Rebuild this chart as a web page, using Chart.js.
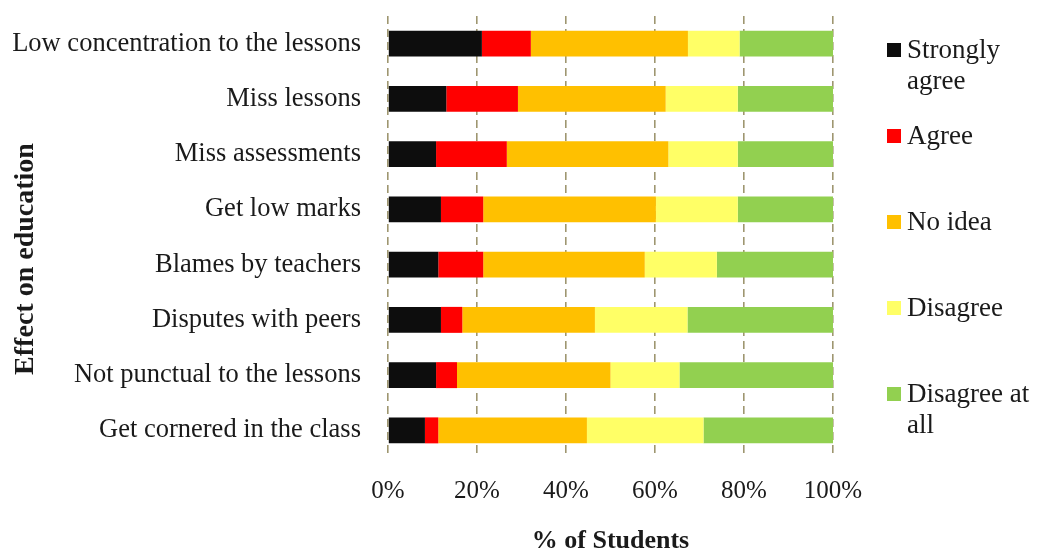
<!DOCTYPE html>
<html>
<head>
<meta charset="utf-8">
<script src="https://cdn.jsdelivr.net/npm/chart.js@4/dist/chart.umd.min.js"></script>
<style>
  html, body { margin: 0; padding: 0; background: #fff; }
  #wrap { width: 1038px; height: 552px; }
</style>
</head>
<body>
<div id="wrap"><canvas id="effectChart" width="1038" height="552"></canvas></div>
<script>
// Categories (top to bottom)
var effectLabels = [
    'Low concentration to the lessons',
    'Miss lessons',
    'Miss assessments',
    'Get low marks',
    'Blames by teachers',
    'Disputes with peers',
    'Not punctual to the lessons',
    'Get cornered in the class'
];

// % of students per answer
var stronglyAgree   = [21.1, 13.1, 10.8, 11.9, 11.3, 11.9, 10.8, 8.3];
var agree           = [11.0, 16.1, 15.9,  9.5, 10.1,  4.8,  4.7, 3.0];
var noIdea          = [35.3, 33.2, 36.3, 38.8, 36.3, 29.8, 34.5, 33.4];
var disagree        = [11.6, 16.2, 15.6, 18.4, 16.2, 20.8, 15.5, 26.2];
var disagreeAtAll   = [21.0, 21.4, 21.4, 21.4, 26.1, 32.7, 34.5, 29.1];

var xTicks = [0, 20, 40, 60, 80, 100];

var serif = "'Liberation Serif', 'Times New Roman', serif";
var textColor = '#1a1a1a';
var yTitle = 'Effect on education';

// legend on the right (wrapped labels) + y axis title
var sideLegend = {
    id: 'sideLegend',
    afterDraw: function(chart) {
        var ctx = chart.ctx;
        var area = chart.chartArea;
        var boxX = area.right + 54;
        var textX = boxX + 20;
        var maxW = chart.width - textX - 4;
        ctx.save();
        ctx.font = '27px ' + serif;
        ctx.textBaseline = 'middle';
        ctx.textAlign = 'left';
        chart.data.datasets.forEach(function(ds, i) {
            var y = area.top + 34 + i * 86;
            ctx.fillStyle = ds.backgroundColor;
            ctx.fillRect(boxX, y - 7, 14, 14);
            // simple word wrap
            var words = ds.label.split(' ');
            var lines = [];
            var line = '';
            words.forEach(function(w) {
                var test = line ? line + ' ' + w : w;
                if (ctx.measureText(test).width > maxW && line) {
                    lines.push(line);
                    line = w;
                } else {
                    line = test;
                }
            });
            lines.push(line);
            ctx.fillStyle = textColor;
            lines.forEach(function(l, j) {
                ctx.fillText(l, textX, y + 1 + j * 31);
            });
        });

        // y title, rotated
        ctx.translate(26, (area.top + area.bottom) / 2 + 22);
        ctx.rotate(-Math.PI / 2);
        ctx.textAlign = 'center';
        ctx.font = 'bold 28px ' + serif;
        ctx.fillText(yTitle, 0, 0);
        ctx.restore();
    }
};

var ctx = document.getElementById('effectChart').getContext('2d');
var effectChart = new Chart(ctx, {
    type: 'bar',
    data: {
        labels: effectLabels,
        datasets: [
            { label: 'Strongly agree', data: stronglyAgree, backgroundColor: '#0d0d0d' },
            { label: 'Agree', data: agree, backgroundColor: '#ff0000' },
            { label: 'No idea', data: noIdea, backgroundColor: '#ffc000' },
            { label: 'Disagree', data: disagree, backgroundColor: '#ffff66' },
            { label: 'Disagree at all', data: disagreeAtAll, backgroundColor: '#92d050' }
        ]
    },
    options: {
        indexAxis: 'y',
        responsive: false,
        animation: false,
        layout: {
            padding: { top: 16, right: 205, left: 0, bottom: 0 }
        },
        datasets: {
            bar: { categoryPercentage: 1, barPercentage: 0.47, borderWidth: 0 }
        },
        scales: {
            x: {
                stacked: true,
                min: 0,
                max: 100,
                afterBuildTicks: function(scale) {
                    scale.ticks = xTicks.map(function(v) { return { value: v }; });
                },
                afterFit: function(scale) { scale.height = 94; },
                ticks: {
                    padding: 18,
                    color: textColor,
                    font: { family: serif, size: 25 },
                    callback: function(v) { return v + '%'; }
                },
                grid: { color: '#9e9670', lineWidth: 1.6, drawTicks: false },
                border: { display: false, dash: [8, 5] },
                title: {
                    display: true,
                    text: '% of Students',
                    color: textColor,
                    font: { family: serif, size: 26, weight: 'bold' },
                    padding: { top: 16, bottom: -5 }
                }
            },
            y: {
                stacked: true,
                afterFit: function(scale) {
                    scale.width = 388;
                    scale.paddingTop = 0;
                    scale.paddingBottom = 0;
                },
                ticks: {
                    padding: 19,
                    color: textColor,
                    font: { family: serif, size: 26.5 }
                },
                grid: { display: false },
                border: { display: false }
            }
        },
        plugins: {
            legend: { display: false },
            tooltip: { enabled: false }
        }
    },
    plugins: [sideLegend]
});
</script>
</body>
</html>
